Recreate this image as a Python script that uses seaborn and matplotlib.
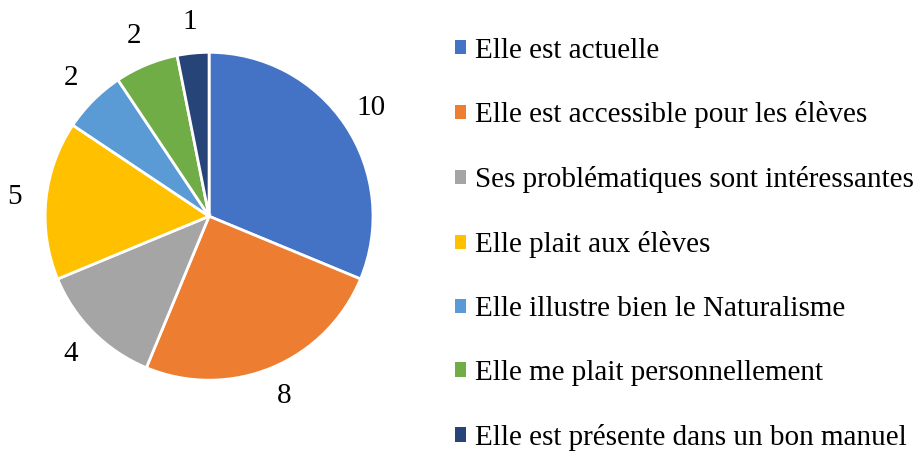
import numpy as np
import pandas as pd
import matplotlib
matplotlib.use("Agg")
import matplotlib.pyplot as plt
import seaborn as sns
from matplotlib.patches import Patch

categories = [
    "Elle est actuelle",
    "Elle est accessible pour les élèves",
    "Ses problématiques sont intéressantes",
    "Elle plait aux élèves",
    "Elle illustre bien le Naturalisme",
    "Elle me plait personnellement",
    "Elle est présente dans un bon manuel",
]
counts = [10, 8, 4, 5, 2, 2, 1]
colors = ["#4472C4", "#ED7D31", "#A5A5A5", "#FFC000", "#5B9BD5", "#70AD47", "#264478"]

sns.set_style("white")
plt.rcParams["font.family"] = ["Liberation Serif", "DejaVu Serif"]
plt.rcParams["text.color"] = "black"
palette = sns.color_palette(colors)

fig = plt.figure(figsize=(9.17, 4.51), dpi=100)
ax = fig.add_axes([0.049, 0.157, 0.358, 0.727])

total = sum(counts)
wedges, texts, autotexts = ax.pie(
    counts,
    colors=palette,
    startangle=90,
    counterclock=False,
    autopct=lambda p: f"{round(p * total / 100)}",
    pctdistance=1.19,
    wedgeprops=dict(edgecolor="white", linewidth=2),
    textprops=dict(fontsize=21, color="black"),
)
ax.set_xlim(-1, 1)
ax.set_ylim(-1, 1)
ax.set_aspect("equal")
for t in autotexts:
    t.set_clip_on(False)

handles = [Patch(facecolor=c, edgecolor="none") for c in palette]
leg = fig.legend(
    handles, categories,
    loc="upper left", bbox_to_anchor=(0.4674, 0.975),
    frameon=False, fontsize=21,
    handlelength=0.38, handleheight=0.38, handletextpad=0.31,
    labelspacing=1.3,
)
for t in leg.get_texts():
    t.set_color("black")

fig.savefig("out.png", dpi=100)
